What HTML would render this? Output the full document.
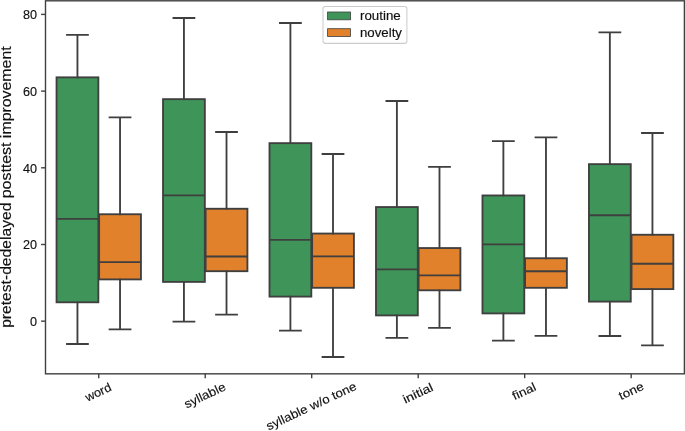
<!DOCTYPE html>
<html><head><meta charset="utf-8"><title>boxplot</title>
<style>
html,body{margin:0;padding:0;background:#fff;}
body{width:685px;height:431px;overflow:hidden;font-family:"Liberation Sans",sans-serif;}
svg{display:block;will-change:transform;}
</style></head><body>
<svg width="685" height="431" viewBox="0 0 685 431">
<rect x="0" y="0" width="685" height="431" fill="#ffffff"/>
<g stroke="#3f3f3f" stroke-width="1.85" stroke-linecap="square" fill="none">
<rect x="56.55" y="77.35" width="41.80" height="224.95" fill="#3f9459" stroke-linejoin="miter"/>
<path d="M77.45 77.35V34.90M77.45 302.30V343.95M67.00 34.90H87.90M67.00 343.95H87.90"/>
<path d="M56.55 218.90H98.34" stroke-linecap="butt"/>
<rect x="99.14" y="214.25" width="41.80" height="65.15" fill="#e1812c" stroke-linejoin="miter"/>
<path d="M120.04 214.25V117.30M120.04 279.40V329.35M109.59 117.30H130.49M109.59 329.35H130.49"/>
<path d="M99.14 262.10H140.94" stroke-linecap="butt"/>
<rect x="163.03" y="99.15" width="41.80" height="182.75" fill="#3f9459" stroke-linejoin="miter"/>
<path d="M183.93 99.15V18.00M183.93 281.90V321.55M173.48 18.00H194.38M173.48 321.55H194.38"/>
<path d="M163.03 195.40H204.83" stroke-linecap="butt"/>
<rect x="205.62" y="208.75" width="41.80" height="62.45" fill="#e1812c" stroke-linejoin="miter"/>
<path d="M226.52 208.75V132.00M226.52 271.20V314.65M216.07 132.00H236.97M216.07 314.65H236.97"/>
<path d="M205.62 256.50H247.42" stroke-linecap="butt"/>
<rect x="269.51" y="143.15" width="41.80" height="153.45" fill="#3f9459" stroke-linejoin="miter"/>
<path d="M290.41 143.15V23.00M290.41 296.60V330.65M279.96 23.00H300.86M279.96 330.65H300.86"/>
<path d="M269.51 239.90H311.31" stroke-linecap="butt"/>
<rect x="312.11" y="233.55" width="41.80" height="54.25" fill="#e1812c" stroke-linejoin="miter"/>
<path d="M333.00 233.55V154.00M333.00 287.80V356.95M322.56 154.00H343.45M322.56 356.95H343.45"/>
<path d="M312.11 256.40H353.91" stroke-linecap="butt"/>
<rect x="376.00" y="207.05" width="41.80" height="108.35" fill="#3f9459" stroke-linejoin="miter"/>
<path d="M396.89 207.05V101.00M396.89 315.40V337.85M386.44 101.00H407.34M386.44 337.85H407.34"/>
<path d="M376.00 269.40H417.80" stroke-linecap="butt"/>
<rect x="418.59" y="248.05" width="41.80" height="42.25" fill="#e1812c" stroke-linejoin="miter"/>
<path d="M439.49 248.05V166.80M439.49 290.30V327.85M429.04 166.80H449.94M429.04 327.85H449.94"/>
<path d="M418.59 275.30H460.39" stroke-linecap="butt"/>
<rect x="482.48" y="195.45" width="41.80" height="117.95" fill="#3f9459" stroke-linejoin="miter"/>
<path d="M503.38 195.45V141.10M503.38 313.40V340.65M492.93 141.10H513.83M492.93 340.65H513.83"/>
<path d="M482.48 244.40H524.28" stroke-linecap="butt"/>
<rect x="525.07" y="258.25" width="41.80" height="29.55" fill="#e1812c" stroke-linejoin="miter"/>
<path d="M545.97 258.25V137.30M545.97 287.80V335.85M535.52 137.30H556.42M535.52 335.85H556.42"/>
<path d="M525.07 271.20H566.87" stroke-linecap="butt"/>
<rect x="588.96" y="164.15" width="41.80" height="137.45" fill="#3f9459" stroke-linejoin="miter"/>
<path d="M609.86 164.15V32.40M609.86 301.60V335.95M599.41 32.40H620.31M599.41 335.95H620.31"/>
<path d="M588.96 215.20H630.76" stroke-linecap="butt"/>
<rect x="631.55" y="234.75" width="41.80" height="54.35" fill="#e1812c" stroke-linejoin="miter"/>
<path d="M652.45 234.75V133.00M652.45 289.10V345.35M642.00 133.00H662.90M642.00 345.35H662.90"/>
<path d="M631.55 263.70H673.35" stroke-linecap="butt"/>
</g>
<g stroke="#404040" stroke-width="1.4" fill="none">
<rect x="45.5" y="0.8" width="638.9" height="373.02" />
<path d="M45.5 14.4h-4.4"/>
<path d="M45.5 91.1h-4.4"/>
<path d="M45.5 167.8h-4.4"/>
<path d="M45.5 244.5h-4.4"/>
<path d="M45.5 321.15h-4.4"/>
<path d="M98.74 373.82v4.4"/>
<path d="M205.22 373.82v4.4"/>
<path d="M311.71 373.82v4.4"/>
<path d="M418.19 373.82v4.4"/>
<path d="M524.67 373.82v4.4"/>
<path d="M631.16 373.82v4.4"/>
</g>
<g font-family="'Liberation Sans', sans-serif" fill="#111111" stroke="#111111" stroke-width="0.15">
<text x="37.10" y="19.00" font-size="12.39" text-anchor="end" textLength="14.04" lengthAdjust="spacingAndGlyphs">80</text>
<text x="37.10" y="96.00" font-size="12.39" text-anchor="end" textLength="14.04" lengthAdjust="spacingAndGlyphs">60</text>
<text x="37.10" y="173.00" font-size="12.39" text-anchor="end" textLength="14.04" lengthAdjust="spacingAndGlyphs">40</text>
<text x="37.10" y="249.00" font-size="12.39" text-anchor="end" textLength="14.04" lengthAdjust="spacingAndGlyphs">20</text>
<text x="37.10" y="326.00" font-size="12.39" text-anchor="end" textLength="7.02" lengthAdjust="spacingAndGlyphs">0</text>
<g transform="translate(98.59 393.22) rotate(-25)"><text x="0" y="3.00" font-size="12" text-anchor="middle" textLength="27.40" lengthAdjust="spacingAndGlyphs">word</text></g>
<g transform="translate(205.28 396.38) rotate(-25)"><text x="0" y="3.00" font-size="12" text-anchor="middle" textLength="44.30" lengthAdjust="spacingAndGlyphs">syllable</text></g>
<g transform="translate(311.71 407.15) rotate(-25)"><text x="0" y="3.00" font-size="12" text-anchor="middle" textLength="97.92" lengthAdjust="spacingAndGlyphs">syllable w/o tone</text></g>
<g transform="translate(418.44 394.22) rotate(-25)"><text x="0" y="3.00" font-size="12" text-anchor="middle" textLength="32.00" lengthAdjust="spacingAndGlyphs">initial</text></g>
<g transform="translate(524.47 392.38) rotate(-25)"><text x="0" y="3.00" font-size="12" text-anchor="middle" textLength="24.80" lengthAdjust="spacingAndGlyphs">final</text></g>
<g transform="translate(631.56 391.95) rotate(-25)"><text x="0" y="3.00" font-size="12" text-anchor="middle" textLength="26.00" lengthAdjust="spacingAndGlyphs">tone</text></g>
<text transform="translate(11.3 327.85) rotate(-90)" x="0" y="0" font-size="14.36" textLength="125.21" lengthAdjust="spacingAndGlyphs">pretest-dedelayed</text>
<text transform="translate(11.3 198.29) rotate(-90)" x="0" y="0" font-size="14.36" textLength="55.82" lengthAdjust="spacingAndGlyphs">posttest</text>
<text transform="translate(11.3 138.13) rotate(-90)" x="0" y="0" font-size="14.36" textLength="91.79" lengthAdjust="spacingAndGlyphs">improvement</text>
</g>
<rect x="323" y="6.55" width="83.9" height="36.85" rx="2.3" ry="2.3" fill="#ffffff" fill-opacity="0.8" stroke="#c6c6c6" stroke-opacity="0.9" stroke-width="1.05"/>
<rect x="327.6" y="12.0" width="22.9" height="7.8" fill="#3f9459" stroke="#3f3f3f" stroke-width="0.8"/>
<rect x="327.6" y="28.7" width="22.9" height="7.8" fill="#e1812c" stroke="#3f3f3f" stroke-width="0.8"/>
<g font-family="'Liberation Sans', sans-serif" fill="#111111" stroke="#111111" stroke-width="0.15">
<text x="360.00" y="20.00" font-size="12.00" text-anchor="start" textLength="40.70" lengthAdjust="spacingAndGlyphs">routine</text>
<text x="360.00" y="37.00" font-size="12.00" text-anchor="start" textLength="42.00" lengthAdjust="spacingAndGlyphs">novelty</text>
</g>
</svg>
</body></html>
